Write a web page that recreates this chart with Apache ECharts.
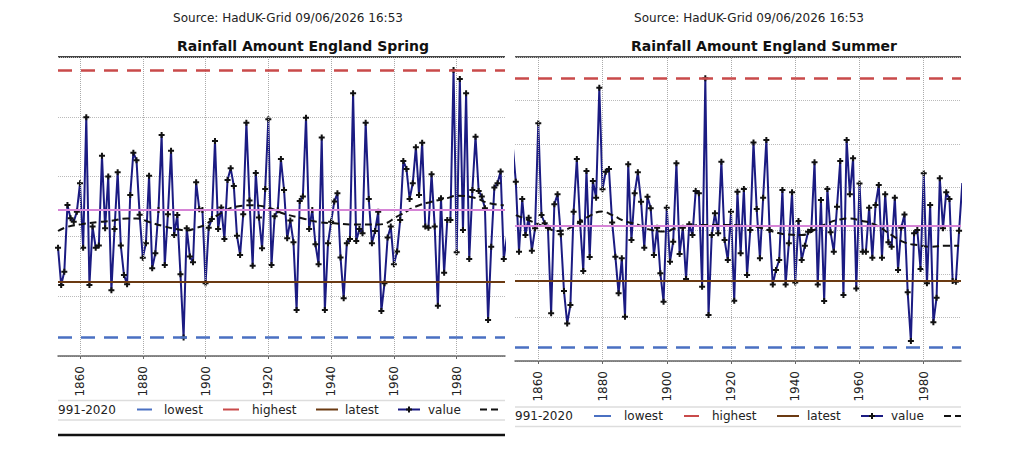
<!DOCTYPE html>
<html><head><meta charset="utf-8">
<script src="https://cdn.jsdelivr.net/npm/echarts@6/dist/echarts.min.js"></script>
<style>html,body{margin:0;padding:0;background:#fff}#c{width:1024px;height:462px}</style>
</head><body><div id="c"></div>
<script>
// ---------- data ----------
const tickYears = [1860, 1880, 1900, 1920, 1940, 1960, 1980];

const springStart = 1853;
const springValues = [
 140.6,109.4,120.5,176.3,165.1,162.3,170.7,194.4,140.6,249.6,
 109.4,158.2,140.6,142.3,217.5,156.8,200.0,104.9,156.2,203.6,
 142.3,117.8,110.0,184.6,220.0,213.6,168.0,132.2,144.2,200.8,
 123.3,135.9,172.1,234.8,126.1,168.5,221.7,151.2,167.9,118.3,
 65.4,156.8,133.1,128.3,195.2,172.7,172.1,110.8,157.3,164.6,
 229.8,156.2,174.1,147.9,197.2,206.9,192.2,150.6,134.5,168.5,
 245.1,180.0,125.5,203.0,165.7,140.0,189.7,247.9,126.1,166.8,
 171.8,214.7,188.8,148.4,163.2,145.1,88.5,179.6,183.3,249.3,
 156.2,172.1,143.4,126.7,232.6,88.5,144.2,162.3,179.1,186.0,
 132.3,98.2,144.2,147.9,269.6,146.2,156.2,152.6,245.1,181.3,
 144.2,154.5,170.7,87.7,110.8,149.0,158.2,126.7,137.3,163.7,
 213.1,206.4,181.3,194.4,224.5,184.6,228.4,158.2,157.3,201.9,
 158.2,92.1,181.8,119.6,163.7,163.7,289.2,136.7,281.6,155.4,
 269.6,131.1,188.8,233.4,188.0,183.3,173.5,80.1,141.4,190.8,
 194.4,204.2,131.1,150.0
];
const springSmoothYears  = [1853,1856,1860,1866,1870,1875,1878,1882,1886,1891,1894,1897,1900,1904,1910,1915,1920,1925,1931,1936,1941,1947,1955,1962,1967,1972,1977,1980,1986,1990,1995];
const springSmoothValues = [154.5,158,160,162,163,165,165,162,159,156,155,157,160,168,175,176,174,169,165,162,161,160,160,168,175,179,182,184,182,178,176];
const springHighest = 289, springLowest = 66, springLatest = 112, springMean = 172;

const summerStart = 1852;
const summerValues = [
 300.0,256.5,175.9,236.5,195.1,215.0,177.0,202.7,323.6,218.1,
 208.5,203.5,104.9,230.4,241.9,195.8,130.6,93.3,114.4,221.9,
 282.6,210.4,153.6,268.7,169.7,257.2,238.0,364.7,247.6,268.0,
 271.1,209.6,170.1,127.9,168.2,101.0,276.4,189.3,243.0,267.2,
 233.4,180.5,239.2,225.8,172.0,203.5,150.9,118.3,226.5,164.3,
 187.4,277.6,173.2,203.5,144.4,207.3,195.0,245.7,243.0,135.6,
 375.4,103.0,195.0,220.0,197.0,279.5,189.3,166.3,221.9,119.4,
 244.9,174.0,248.0,149.0,200.8,301.7,225.0,168.2,238.0,304.4,
 200.8,138.2,154.7,166.3,246.9,138.2,185.5,244.2,140.5,211.2,
 166.3,182.8,198.9,200.9,278.7,138.2,235.3,119.0,248.0,198.1,
 175.9,227.7,280.3,126.0,304.4,241.9,283.3,133.6,254.5,175.9,
 175.9,226.5,169.0,229.6,252.6,169.0,241.9,186.6,181.6,238.0,
 154.7,203.5,218.8,129.1,73.0,197.0,200.8,155.9,266.1,139.4,
 229.6,94.5,122.9,260.3,202.7,244.2,236.5,142.1,141.3,200.0,
 255.0
];
const summerSmoothYears  = [1853,1857,1862,1866,1870,1875,1880,1883,1887,1891,1895,1900,1902,1908,1913,1919,1924,1929,1933,1937,1942,1946,1950,1954,1957,1960,1965,1970,1974,1978,1982,1987,1991];
const summerSmoothValues = [218,212,204.6,199.7,203.5,215,222,218,211,207,201,199,202,205.8,206.6,206.6,205.8,203.5,199,195.8,195,201,208.5,213,214,212,206.6,195,186.6,183.5,181.6,182.8,182.8];
const summerHighest = 375, summerLowest = 66, summerLatest = 142, summerMean = 206;

const sourceText = 'Source: HadUK-Grid 09/06/2026 16:53';
const springTitle = 'Rainfall Amount England Spring';
const summerTitle = 'Rainfall Amount England Summer';
const legendLabels = ['991-2020', 'lowest', 'highest', 'latest', 'value'];

// ---------- styles ----------
const FONT = 'DejaVu Sans';
const C_VALUE = '#1b1b82', C_LOW = '#4a70c2', C_HIGH = '#c94a4a', C_LATEST = '#6b3a12', C_MEAN = '#d684d6';
const PLUS = 'path://M-1,-3H1V-1H3V1H1V3H-1V1H-3V-1H-1Z';

function pairs(start, vals) { return vals.map((v, i) => [start + i, v]); }
function zip(xs, ys) { return xs.map((x, i) => [x, ys[i]]); }

function refLine(name, gi, val, color, type, width) {
  return {
    name, type: 'line', xAxisIndex: gi, yAxisIndex: gi, data: [], z: 2, silent: true,
    markLine: {
      silent: true, symbol: ['none', 'none'], label: { show: false }, animation: false,
      lineStyle: { color, type, width }, emphasis: { disabled: true },
      data: [{ yAxis: val }]
    }
  };
}
function vGrid(gi) {
  return {
    type: 'line', xAxisIndex: gi, yAxisIndex: gi, data: [], z: 1, silent: true,
    markLine: {
      silent: true, symbol: ['none', 'none'], label: { show: false }, animation: false,
      lineStyle: { color: '#aaa', type: 'dotted', width: 1 }, emphasis: { disabled: true },
      data: tickYears.map(y => ({ xAxis: y }))
    }
  };
}
function xAx(gi, min, max) {
  return {
    type: 'value', gridIndex: gi, min, max, splitLine: { show: false },
    axisLine: { show: true, onZero: false, lineStyle: { color: '#666', width: 1.5 } },
    axisTick: { show: true, customValues: tickYears, length: 3, lineStyle: { color: '#666' } },
    axisLabel: { customValues: tickYears, rotate: 90, margin: 10, fontSize: 12, color: '#222', fontFamily: FONT,
                 formatter: v => String(Math.round(v)) }
  };
}
function yAx(gi, min, max) {
  return {
    type: 'value', gridIndex: gi, min, max, interval: 50,
    axisLine: { show: false }, axisTick: { show: false }, axisLabel: { show: false },
    splitLine: { show: true, lineStyle: { color: '#bbb', type: 'dotted', width: 1 } }
  };
}
function valueSeries(gi, data) {
  return {
    name: 'value', type: 'line', xAxisIndex: gi, yAxisIndex: gi, data, z: 3, clip: true,
    showAllSymbol: true, symbol: PLUS, symbolSize: 6,
    itemStyle: { color: '#111' }, lineStyle: { color: C_VALUE, width: 2 }
  };
}
function smoothSeries(gi, data) {
  return {
    name: 'smooth', type: 'line', xAxisIndex: gi, yAxisIndex: gi, data, z: 4, clip: true,
    smooth: 0.5, symbol: 'none', lineStyle: { color: '#111', width: 2, type: [7, 4] }
  };
}

// ---------- legend / decoration graphics ----------
function txt(x, y, text, opts) {
  return { type: 'text', x, y, silent: true, style: Object.assign({ text, fill: '#222', font: '12px "' + FONT + '"', textAlign: 'left', textVerticalAlign: 'middle' }, opts || {}) };
}
function ln(x1, y1, x2, y2, stroke, lineWidth, lineDash) {
  return { type: 'line', silent: true, shape: { x1, y1, x2, y2 }, style: { stroke, lineWidth, lineDash: lineDash || null } };
}
function legend(L, y, xs) {
  const g = [];
  g.push(ln(L.x0, y - 9, L.x1, y - 9, '#ddd', 1.5));
  g.push(ln(L.x0, y + 10.5, L.x1, y + 10.5, '#ddd', 1.5));
  g.push(txt(L.x0, y, legendLabels[0]));
  g.push(ln(xs.low[0], y, xs.low[1], y, C_LOW, 2));
  g.push(txt(xs.low[2], y, legendLabels[1]));
  g.push(ln(xs.high[0], y, xs.high[1], y, C_HIGH, 2));
  g.push(txt(xs.high[2], y, legendLabels[2]));
  g.push(ln(xs.lat[0], y, xs.lat[1], y, C_LATEST, 2));
  g.push(txt(xs.lat[2], y, legendLabels[3]));
  g.push(ln(xs.val[0], y, xs.val[1], y, C_VALUE, 2));
  const cx = (xs.val[0] + xs.val[1]) / 2;
  g.push({ type: 'polygon', silent: true, shape: { points: [[cx-1,y-3],[cx+1,y-3],[cx+1,y-1],[cx+3,y-1],[cx+3,y+1],[cx+1,y+1],[cx+1,y+3],[cx-1,y+3],[cx-1,y+1],[cx-3,y+1],[cx-3,y-1],[cx-1,y-1]] }, style: { fill: '#111' } });
  g.push(txt(xs.val[2], y, legendLabels[4]));
  g.push(ln(xs.dash[0], y, xs.dash[1], y, '#111', 2, [7, 4]));
  return g;
}

const graphics = [
  txt(288, 18, sourceText, { textAlign: 'center' }),
  txt(749, 18, sourceText, { textAlign: 'center' }),
  txt(303, 46, springTitle, { textAlign: 'center', font: 'bold 14px "' + FONT + '"', fill: '#111' }),
  txt(764, 46, summerTitle, { textAlign: 'center', font: 'bold 14px "' + FONT + '"', fill: '#111' }),
  ln(58, 57, 505, 57, '#444', 2),
  ln(515, 57, 961, 57, '#555', 2),
  ln(58, 435, 505, 435, '#111', 2.5)
].concat(
  legend({ x0: 58, x1: 505 }, 409.5, { low: [137, 152, 164], high: [223, 239, 252], lat: [316, 338, 345], val: [398, 420, 428], dash: [480, 498] }),
  legend({ x0: 515, x1: 961 }, 416, { low: [594, 611, 624], high: [684, 699, 712], lat: [777, 799, 807], val: [861, 883, 891], dash: [944, 961] })
);

const chart = echarts.init(document.getElementById('c'), null, { renderer: 'svg' });
chart.setOption({
  animation: false,
  backgroundColor: '#fff',
  textStyle: { fontFamily: FONT },
  grid: [
    { left: 58, top: 57, width: 447, height: 299 },
    { left: 515, top: 57, width: 446, height: 304 }
  ],
  xAxis: [xAx(0, 1852.99, 1995.39), xAx(1, 1852.75, 1991.6)],
  yAxis: [yAx(0, 50, 300), yAx(1, 50, 400)],
  graphic: graphics,
  series: [
    vGrid(0),
    refLine('mean', 0, springMean, C_MEAN, 'solid', 2),
    refLine('lowest', 0, springLowest, C_LOW, [14, 9], 2.5),
    refLine('highest', 0, springHighest, C_HIGH, [14, 9], 2.5),
    refLine('latest', 0, springLatest, C_LATEST, 'solid', 2),
    valueSeries(0, pairs(springStart, springValues)),
    smoothSeries(0, zip(springSmoothYears, springSmoothValues)),
    vGrid(1),
    refLine('mean', 1, summerMean, C_MEAN, 'solid', 2),
    refLine('lowest', 1, summerLowest, C_LOW, [14, 9], 2.5),
    refLine('highest', 1, summerHighest, C_HIGH, [14, 9], 2.5),
    refLine('latest', 1, summerLatest, C_LATEST, 'solid', 2),
    valueSeries(1, pairs(summerStart, summerValues)),
    smoothSeries(1, zip(summerSmoothYears, summerSmoothValues))
  ]
});
</script></body></html>
